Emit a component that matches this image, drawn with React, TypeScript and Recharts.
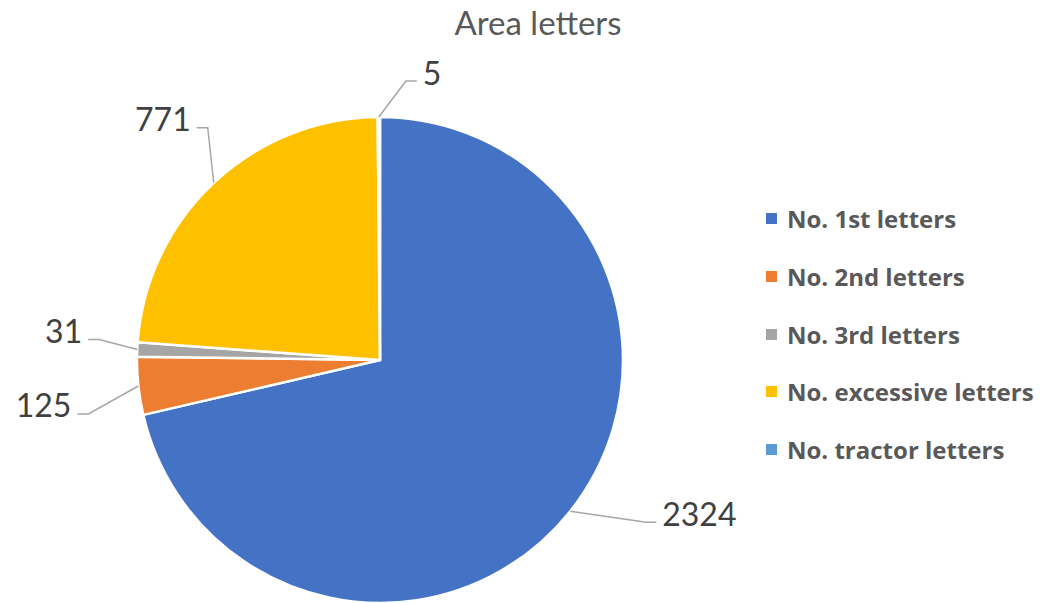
import { PieChart, Pie, Cell, Legend } from 'recharts';

// slice names, counts and colours (clockwise from 12 o'clock)
const categories = [
  'No. 1st letters',
  'No. 2nd letters',
  'No. 3rd letters',
  'No. excessive letters',
  'No. tractor letters',
];
const counts = [2324, 125, 31, 771, 5];
const colors = ['#4472C4', '#ED7D31', '#A5A5A5', '#FFC000', '#5B9BD5'];

// leader line layout per slice: elbow offset from the slice edge, then a short horizontal run
const leaderLayout = [
  { dx: 76, dy: 11, run: 10 },
  { dx: -50, dy: 28, run: -11 },
  { dx: -38, dy: -10, run: -11 },
  { dx: -6, dy: -55, run: -11 },
  { dx: 27, dy: -36, run: 11 },
];

const FONT = 'Lato, "Open Sans", sans-serif';
const RAD = Math.PI / 180;

const data = categories.map((name, i) => ({ name, value: counts[i] }));

function renderLabel(props: any) {
  const { cx, cy, midAngle, outerRadius, index, value } = props;
  const sx = cx + outerRadius * Math.cos(-midAngle * RAD);
  const sy = cy + outerRadius * Math.sin(-midAngle * RAD);
  const l = leaderLayout[index];
  const ex = sx + l.dx;
  const ey = sy + l.dy;
  const hx = ex + l.run;
  const right = l.run > 0;
  return (
    <g key={`lbl-${index}`}>
      <polyline
        points={`${sx},${sy} ${ex},${ey} ${hx},${ey}`}
        fill="none"
        stroke="#A6A6A6"
        strokeWidth={1.5}
      />
      <text
        x={hx + (right ? 6 : -6)}
        y={ey - 9}
        textAnchor={right ? 'start' : 'end'}
        dominantBaseline="central"
        fill="#404040"
        fontSize={32}
        fontFamily={FONT}
      >
        {value}
      </text>
    </g>
  );
}

function LegendList() {
  return (
    <div style={{ fontFamily: '"Open Sans", sans-serif' }}>
      {data.map((d, i) => (
        <div
          key={d.name}
          style={{ display: 'flex', alignItems: 'center', height: 57.7 }}
        >
          <span
            style={{
              width: 11,
              height: 11,
              background: colors[i],
              marginRight: 10,
              display: 'inline-block',
              flexShrink: 0,
            }}
          />
          <span style={{ fontSize: 24, fontWeight: 700, color: '#595959', whiteSpace: 'nowrap' }}>
            {d.name}
          </span>
        </div>
      ))}
    </div>
  );
}

export default function App() {
  return (
    <div style={{ position: 'absolute', left: 0, top: 0, width: 1042, height: 603, background: '#fff' }}>
      <PieChart width={1042} height={603} margin={{ top: 0, right: 0, bottom: 0, left: 0 }}>
        <text
          x={538}
          y={22}
          textAnchor="middle"
          dominantBaseline="central"
          fill="#595959"
          fontSize={33}
          fontFamily={FONT}
        >
          Area letters
        </text>
        <Pie
          data={data}
          dataKey="value"
          nameKey="name"
          cx={380}
          cy={360}
          outerRadius={243}
          startAngle={90}
          endAngle={-270}
          stroke="#fff"
          strokeWidth={2.5}
          label={renderLabel}
          labelLine={false}
          isAnimationActive={false}
        >
          {data.map((d, i) => (
            <Cell key={d.name} fill={colors[i]} />
          ))}
        </Pie>
        <Legend
          layout="vertical"
          align="right"
          verticalAlign="top"
          content={() => <LegendList />}
          wrapperStyle={{ left: 766, top: 190, width: 276 }}
        />
      </PieChart>
    </div>
  );
}
